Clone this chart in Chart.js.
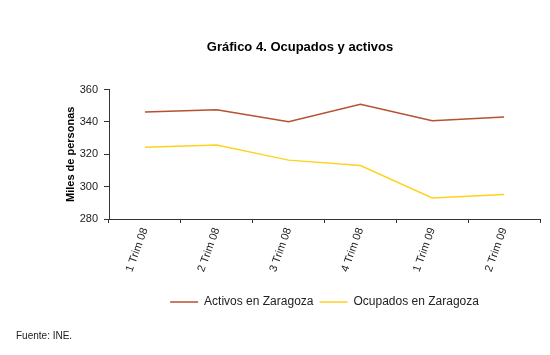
<!DOCTYPE html>
<html>
<head>
<meta charset="utf-8">
<script src="https://cdn.jsdelivr.net/npm/chart.js@4"></script>
<style>
  html, body { margin: 0; padding: 0; background: #fff; }
  #wrap { width: 550px; height: 355px; position: relative; }
</style>
</head>
<body>
<div id="wrap"><canvas id="c" width="550" height="355"></canvas></div>
<script>
const categories = ['1 Trim 08', '2 Trim 08', '3 Trim 08', '4 Trim 08', '1 Trim 09', '2 Trim 09'];
const activos = [346.1, 347.6, 340.2, 350.9, 340.8, 343.0];
const ocupados = [324.4, 325.7, 316.4, 313.1, 293.0, 295.1];
const seriesNames = ['Activos en Zaragoza', 'Ocupados en Zaragoza'];
const yTicks = [280, 300, 320, 340, 360];
const sourceNote = 'Fuente: INE.';

const FONT = "'Liberation Sans', Arial, sans-serif";
Chart.defaults.font.family = FONT;
Chart.defaults.color = '#222';

const footnotePlugin = {
  id: 'footnote',
  afterDraw(chart) {
    const ctx = chart.ctx;
    ctx.save();
    ctx.font = '10px ' + FONT;
    ctx.fillStyle = '#222';
    ctx.textAlign = 'left';
    ctx.textBaseline = 'middle';
    ctx.fillText(sourceNote, 16, 336);
    ctx.restore();
  }
};

new Chart(document.getElementById('c'), {
  type: 'line',
  data: {
    labels: categories,
    datasets: [
      { label: seriesNames[0], data: activos, borderColor: '#B5522F', backgroundColor: '#B5522F', borderWidth: 1.5, pointRadius: 0, tension: 0 },
      { label: seriesNames[1], data: ocupados, borderColor: '#FFD21F', backgroundColor: '#FFD21F', borderWidth: 1.5, pointRadius: 0, tension: 0 }
    ]
  },
  plugins: [footnotePlugin],
  options: {
    responsive: false,
    animation: false,
    devicePixelRatio: 1,
    layout: { padding: { left: 60, right: 10, top: 0, bottom: 37 } },
    plugins: {
      tooltip: { enabled: false },
      title: {
        display: true,
        text: 'Gráfico 4. Ocupados y activos',
        color: '#000',
        font: { size: 13, weight: 'bold', family: FONT },
        padding: { top: 40, bottom: 34 }
      },
      legend: {
        display: true,
        position: 'bottom',
        fullSize: false,
        labels: {
          usePointStyle: true,
          pointStyle: 'line',
          pointStyleWidth: 28,
          boxHeight: 12,
          padding: 6,
          color: '#222',
          font: { size: 12, family: FONT }
        }
      }
    },
    scales: {
      x: {
        type: 'category',
        offset: true,
        grid: { display: true, drawOnChartArea: false, drawTicks: true, tickLength: 4, color: '#333', offset: true },
        border: { display: true, color: '#333', width: 1 },
        ticks: { minRotation: 70, maxRotation: 70, padding: 3, color: '#222', font: { size: 11, family: FONT } },
        afterFit: (s) => { s.height = 71; }
      },
      y: {
        min: 280,
        max: 360,
        afterBuildTicks: (s) => { s.ticks = yTicks.map(v => ({ value: v })); },
        grid: { display: true, drawOnChartArea: false, drawTicks: true, tickLength: 5, color: '#333' },
        border: { display: true, color: '#333', width: 1 },
        ticks: { padding: 6, color: '#222', font: { size: 11, family: FONT } },
        title: {
          display: true,
          text: 'Miles de personas',
          color: '#000',
          font: { size: 11, weight: 'bold', family: FONT },
          padding: { top: 4, bottom: 0 }
        },
        afterFit: (s) => { s.width = 49; }
      }
    }
  }
});
</script>
</body>
</html>
